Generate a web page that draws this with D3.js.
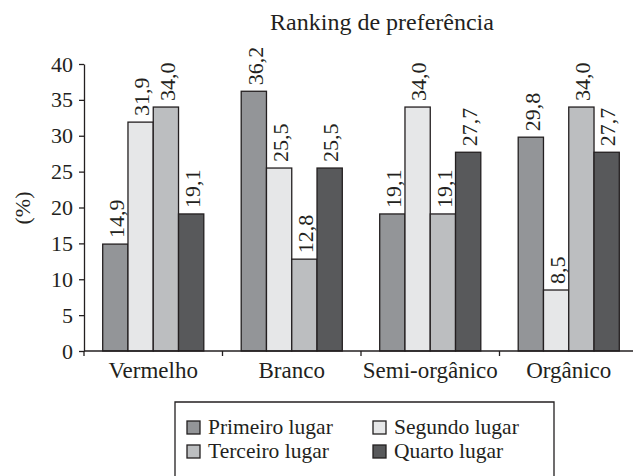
<!DOCTYPE html>
<html>
<head>
<meta charset="utf-8">
<script src="https://cdn.jsdelivr.net/npm/d3@7"></script>
<style>
  body { margin: 0; background: #fff; }
</style>
</head>
<body>
<div id="chart"></div>
<script>
// categorias e series (valores em %)
var categorias = ["Vermelho", "Branco", "Semi-orgânico", "Orgânico"];
var series = ["Primeiro lugar", "Segundo lugar", "Terceiro lugar", "Quarto lugar"];
var primeiro = [14.9, 36.2, 19.1, 29.8];
var segundo = [31.9, 25.5, 34.0, 8.5];
var terceiro = [34.0, 12.8, 19.1, 34.0];
var quarto = [19.1, 25.5, 27.7, 27.7];
var yTicks = [0, 5, 10, 15, 20, 25, 30, 35, 40];
var cores = ["#939598", "#e6e7e8", "#bcbec0", "#58595b"];

var valores = [primeiro, segundo, terceiro, quarto];
var dados = categorias.map(function(c, i) {
    return { cat: c, vals: series.map(function(s, j) { return { serie: s, idx: j, v: valores[j][i] }; }) };
});

var FONTE = "'Liberation Serif', 'Times New Roman', serif";
var TINTA = "#231f20";
var W = 633, H = 476;
var margin = {top: 64, left: 84};
var plotH = 287;

var svg = d3.select("#chart").append("svg")
    .attr("width", W).attr("height", H)
    .style("font-family", FONTE);

var x = d3.scaleBand().domain(categorias).range([84, 638]).padding(0);
var xInner = d3.scaleBand().domain(series).range([0, x.bandwidth()])
    .paddingInner(0).paddingOuter(0.74);
var y = d3.scaleLinear().domain([0, 40]).range([margin.top + plotH, margin.top]);

var fmt = function(v) { return d3.format(".1f")(v).replace(".", ","); };

function texto(sel, size) {
    return sel.style("font-family", FONTE).style("font-size", size + "px").attr("fill", TINTA);
}

// titulo
texto(svg.append("text"), 24)
    .attr("x", 382).attr("y", 30)
    .attr("text-anchor", "middle")
    .text("Ranking de preferência");

// eixo Y
var yAxis = d3.axisLeft(y).tickValues(yTicks).tickSize(5).tickSizeOuter(0).tickPadding(6);
var yG = svg.append("g")
    .attr("class", "y axis")
    .attr("transform", "translate(84,0)")
    .call(yAxis);
yG.selectAll("path, line").attr("stroke", TINTA).attr("stroke-width", 1.3);
texto(yG.selectAll("text"), 22);

texto(svg.append("text"), 22)
    .attr("transform", "translate(30,208) rotate(-90)")
    .attr("text-anchor", "middle")
    .text("(%)");

// barras
var grupos = svg.selectAll(".grupo")
    .data(dados)
    .enter().append("g")
    .attr("class", "grupo")
    .attr("transform", function(d) { return "translate(" + x(d.cat) + ",0)"; });

grupos.selectAll("rect")
    .data(function(d) { return d.vals; })
    .enter().append("rect")
    .attr("x", function(d) { return xInner(d.serie); })
    .attr("y", function(d) { return y(d.v); })
    .attr("width", xInner.bandwidth())
    .attr("height", function(d) { return y(0) - y(d.v); })
    .attr("fill", function(d) { return cores[d.idx]; })
    .attr("stroke", TINTA)
    .attr("stroke-width", 1.3);

texto(grupos.selectAll(".rotulo")
    .data(function(d) { return d.vals; })
    .enter().append("text")
    .attr("class", "rotulo"), 22)
    .attr("transform", function(d) {
        return "translate(" + (xInner(d.serie) + xInner.bandwidth() / 2 + 1) + "," + (y(d.v) - 6) + ") rotate(-90)";
    })
    .attr("dy", "0.35em")
    .text(function(d) { return fmt(d.v); });

// eixo X
var xTickPos = categorias.map(function(c) { return x(c); });
var xAxisG = svg.append("g")
    .attr("class", "x axis")
    .attr("transform", "translate(0," + y(0) + ")");
xAxisG.append("line")
    .attr("x1", 84).attr("x2", 638).attr("y1", 0).attr("y2", 0)
    .attr("stroke", TINTA).attr("stroke-width", 1.3);
xAxisG.selectAll(".tk")
    .data(xTickPos)
    .enter().append("line")
    .attr("class", "tk")
    .attr("x1", function(d) { return d; }).attr("x2", function(d) { return d; })
    .attr("y1", 0).attr("y2", 5)
    .attr("stroke", TINTA).attr("stroke-width", 1.3);
texto(xAxisG.selectAll(".cat")
    .data(categorias)
    .enter().append("text")
    .attr("class", "cat"), 23)
    .attr("x", function(d) { return x(d) + x.bandwidth() / 2; })
    .attr("y", 27)
    .attr("text-anchor", "middle")
    .text(function(d) { return d; });

// legenda
var leg = svg.append("g").attr("transform", "translate(175,402)");
leg.append("path")
    .attr("d", "M0,80 V0 H379 V80")
    .attr("fill", "none")
    .attr("stroke", TINTA)
    .attr("stroke-width", 1.3);

var legX = [12, 198];
var legY = [19, 43];
var itens = leg.selectAll(".item")
    .data(series)
    .enter().append("g")
    .attr("class", "item")
    .attr("transform", function(d, i) { return "translate(" + legX[i % 2] + "," + legY[Math.floor(i / 2)] + ")"; });
itens.append("rect")
    .attr("width", 13).attr("height", 13)
    .attr("fill", function(d, i) { return cores[i]; })
    .attr("stroke", TINTA).attr("stroke-width", 1.3);
texto(itens.append("text"), 21.5)
    .attr("x", 21).attr("y", 13)
    .text(function(d) { return d; });
</script>
</body>
</html>
